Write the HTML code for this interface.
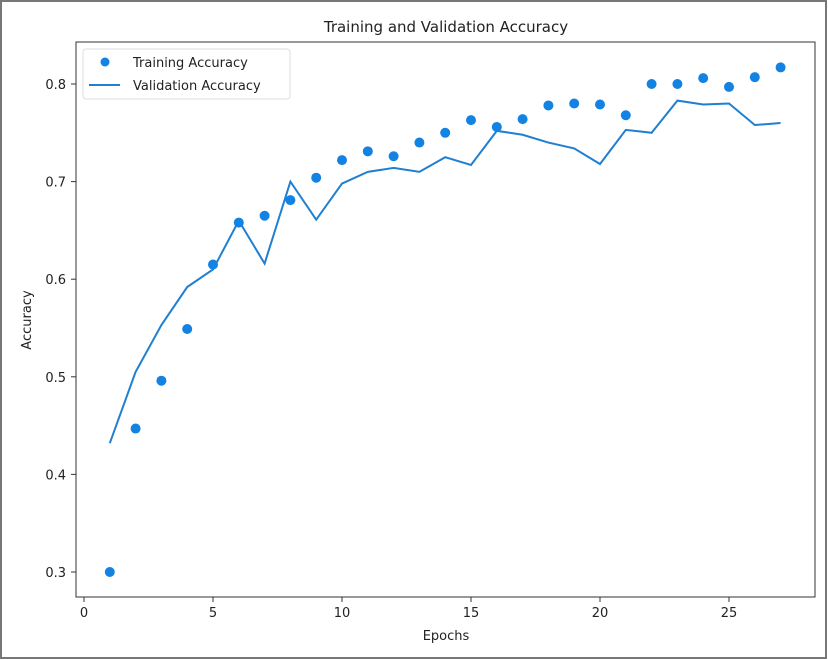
<!DOCTYPE html>
<html><head><meta charset="utf-8"><style>
body{margin:0;background:#fff;}
svg{display:block;font-family:"DejaVu Sans","Liberation Sans",sans-serif;}
</style></head><body>
<svg id="chart" width="828" height="660">
<rect x="1" y="1" width="825" height="657" fill="#fff" stroke="#777" stroke-width="2"/>
<text x="446" y="32" text-anchor="middle" font-size="15" fill="#222">Training and Validation Accuracy</text>
<rect x="76" y="42" width="739" height="555" fill="none" stroke="#333" stroke-width="1"/>
<g id="xticks"></g><g id="yticks"></g>
<text x="446" y="640" text-anchor="middle" font-size="13" fill="#222">Epochs</text>
<text x="31" y="320" text-anchor="middle" font-size="13" fill="#222" transform="rotate(-90 31 320)">Accuracy</text>
<polyline id="valLine" fill="none" stroke="#1f7fd0" stroke-width="2"/>
<g id="pts"></g>
<g>
<rect x="83" y="49" width="207" height="50" fill="#fff" stroke="#ddd" rx="3"/>
<circle cx="105" cy="62" r="4.5" fill="#1283e3"/>
<text x="133" y="67" font-size="13" fill="#222">Training Accuracy</text>
<line x1="89" y1="85" x2="120" y2="85" stroke="#1f7fd0" stroke-width="2"/>
<text x="133" y="90" font-size="13" fill="#222">Validation Accuracy</text>
</g>
</svg>
<script>
const epochs=[1,2,3,4,5,6,7,8,9,10,11,12,13,14,15,16,17,18,19,20,21,22,23,24,25,26,27];
const trainAcc=[0.30,0.447,0.496,0.549,0.615,0.658,0.665,0.681,0.704,0.722,0.731,0.726,0.740,0.750,0.763,0.756,0.764,0.778,0.780,0.779,0.768,0.800,0.800,0.806,0.797,0.807,0.817];
const valAcc=[0.432,0.505,0.553,0.592,0.610,0.660,0.616,0.700,0.661,0.698,0.710,0.714,0.710,0.725,0.717,0.752,0.748,0.740,0.734,0.718,0.753,0.750,0.783,0.779,0.780,0.758,0.760];
const xTicks=[0,5,10,15,20,25];
const yTicks=[0.3,0.4,0.5,0.6,0.7,0.8];
const NS="http://www.w3.org/2000/svg";
function xs(v){return 84+v*25.8;}
function ys(v){return 84+(0.8-v)*976;}
const xg=document.getElementById('xticks'),yg=document.getElementById('yticks');
xTicks.forEach(t=>{
 const l=document.createElementNS(NS,'line');l.setAttribute('x1',xs(t));l.setAttribute('x2',xs(t));l.setAttribute('y1',597);l.setAttribute('y2',602);l.setAttribute('stroke','#333');
 
 
 xg.appendChild(l);
 const tx=document.createElementNS(NS,'text');tx.setAttribute('x',xs(t));tx.setAttribute('y',617);tx.setAttribute('text-anchor','middle');tx.setAttribute('font-size','13');tx.setAttribute('fill','#222');tx.textContent=t;
 
 
 xg.appendChild(tx);
});
yTicks.forEach(t=>{
 const l=document.createElementNS(NS,'line');l.setAttribute('x1',71);l.setAttribute('x2',76);l.setAttribute('y1',ys(t));l.setAttribute('y2',ys(t));l.setAttribute('stroke','#333');
 
 
 yg.appendChild(l);
 const tx=document.createElementNS(NS,'text');tx.setAttribute('x',66);tx.setAttribute('y',ys(t)+5);tx.setAttribute('text-anchor','end');tx.setAttribute('font-size','13');tx.setAttribute('fill','#222');tx.textContent=t.toFixed(1);
 
 
 yg.appendChild(tx);
});
document.getElementById('valLine').setAttribute('points',epochs.map((e,i)=>xs(e)+','+ys(valAcc[i])).join(' '));
const pg=document.getElementById('pts');
epochs.forEach((e,i)=>{
 const c=document.createElementNS(NS,'circle');c.setAttribute('cx',xs(e));c.setAttribute('cy',ys(trainAcc[i]));c.setAttribute('r',5);c.setAttribute('fill','#1283e3');
 
 
 pg.appendChild(c);
});
</script>
</body></html>
